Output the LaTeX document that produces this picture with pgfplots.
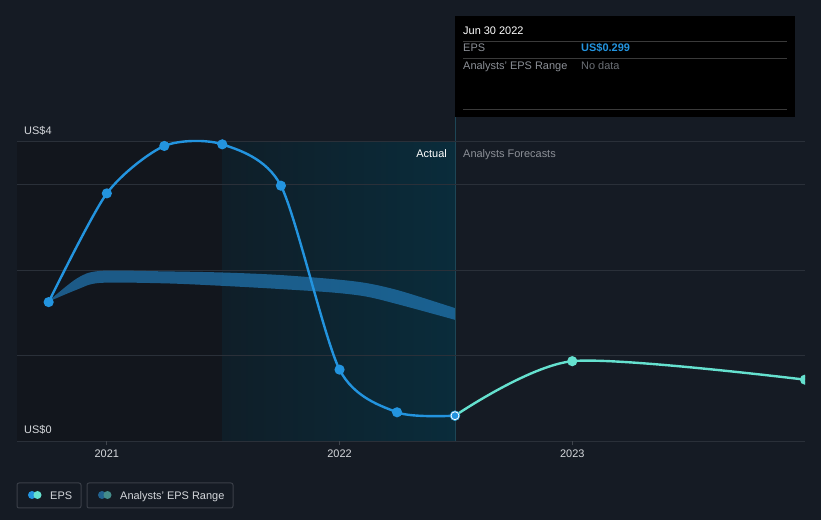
\documentclass[border=0pt]{standalone}
\usepackage{fontspec}
\setmainfont{Liberation Sans}
\usepackage{pgfplots}
\pgfplotsset{compat=1.18}
\usepgfplotslibrary{fillbetween}
\definecolor{bg}{HTML}{151B24}
\definecolor{leftdark}{HTML}{12161D}
\definecolor{tealL}{HTML}{0F1E28}
\definecolor{tealR}{HTML}{0A2C3B}
\definecolor{gridc}{HTML}{2A3039}
\definecolor{axisc}{HTML}{40454D}
\definecolor{epsc}{HTML}{2394DF}
\definecolor{fcc}{HTML}{65E1CF}
\definecolor{bandc}{HTML}{2178B5}
\definecolor{lblc}{HTML}{D5D8DC}
\definecolor{grayt}{HTML}{8C9097}
\definecolor{darkgray}{HTML}{6C7076}
\definecolor{tipline}{HTML}{3A3A3A}
\definecolor{legborder}{HTML}{3A3F48}
\definecolor{rng1}{HTML}{22628F}
\definecolor{rng2}{HTML}{448C8A}
\definecolor{vline}{HTML}{1D4656}
\pagecolor{bg}

\pgfplotstableread{
x y
2020.75 1.626
2021.0 2.896
2021.247 3.450
2021.496 3.469
2021.748 2.986
2022.0 0.837
2022.247 0.339
2022.496 0.299
}\epsdata

\pgfplotstableread{
x y
2022.496 0.299
2023.0 0.936
2024.0 0.720
}\fcdata

\pgfplotstableread{
x up lo
2020.745 1.626 1.626
2020.87 1.90 1.77
2020.97 1.99 1.85
2021.25 1.985 1.845
2021.496 1.972 1.816
2021.73 1.945 1.781
2021.97 1.895 1.738
2022.116 1.848 1.690
2022.26 1.758 1.594
2022.496 1.556 1.419
}\banddata

\begin{document}
\begin{tikzpicture}
\path (0,0) rectangle (821bp,520bp);
\begin{axis}[
  set layers, clip marker paths=true,
  at={(17bp,78.7bp)}, anchor=south west,
  scale only axis, width=788bp, height=303.9bp,
  xmin=2020.614, xmax=2024.0, ymin=0, ymax=3.55,
  axis line style={draw=none},
  xtick={2021,2022,2023}, xticklabels={2021,2022,2023},
  xtick pos=lower, tick align=outside, major tick length=4bp,
  xtick style={color=axisc, line width=0.8bp},
  ytick={1,2,3,3.5}, yticklabels={}, ytick style={draw=none},
  extra y ticks={0}, extra y tick labels={},
  extra y tick style={grid style={color=axisc, line width=1bp}},
  ymajorgrids, major grid style={color=gridc, line width=0.8bp},
  xticklabel style={text=lblc, font=\fontsize{11}{13}\selectfont, inner sep=0pt, anchor=north, yshift=-4bp},
  /pgf/number format/assume math mode=true,
]
\begin{pgfonlayer}{axis background}
\fill[leftdark] (axis cs:2020.614,0) rectangle (axis cs:2021.496,3.5);
\shade[left color=tealL, right color=tealR] (axis cs:2021.496,0) rectangle (axis cs:2022.496,3.5);
\draw[vline, line width=0.8bp] (axis cs:2022.496,0) -- (axis cs:2022.496,3.55);
\end{pgfonlayer}
\addplot[name path=up, draw=none, smooth] table[x=x, y=up] {\banddata};
\addplot[name path=lo, draw=none, smooth] table[x=x, y=lo] {\banddata};
\addplot[bandc, fill opacity=0.7, draw=none] fill between[of=up and lo];
\addplot[fcc, line width=2.4bp, smooth, tension=0.45, mark=*, mark size=3.8bp, mark options={fill=fcc, draw=none}] table[x=x, y=y] {\fcdata};
\addplot[epsc, line width=2.4bp, smooth, tension=0.45, mark=*, mark size=3.8bp, mark options={fill=epsc, draw=none}] table[x=x, y=y] {\epsdata};
\addplot[only marks, mark=*, mark size=4bp, mark options={fill=epsc, draw=white, line width=0.8bp}] coordinates {(2022.496,0.299)};
\end{axis}
\draw[vline, line width=0.8bp] (455bp,382bp) -- (455bp,403bp);
% axis value labels
\begin{scope}[every node/.style={inner sep=0pt, font=\fontsize{11}{13}\selectfont}]
\node[anchor=base west, text=lblc] at (24bp,385bp) {US\$4};
\node[anchor=base west, text=lblc] at (24bp,86bp) {US\$0};
\node[anchor=base east, text=white] at (447bp,362bp) {Actual};
\node[anchor=base west, text=grayt] at (463bp,362bp) {Analysts Forecasts};
% tooltip
\fill[black] (455bp,403bp) rectangle (795bp,504bp);
\node[anchor=base west, text=white] at (463bp,485bp) {Jun 30 2022};
\draw[tipline, line width=0.8bp] (463bp,479bp) -- (787bp,479bp);
\node[anchor=base west, text=grayt] at (463bp,468bp) {EPS};
\node[anchor=base west, text=epsc] at (581bp,468bp) {\bfseries US\$0.299};
\draw[tipline, line width=0.8bp] (463bp,462bp) -- (787bp,462bp);
\node[anchor=base west, text=grayt] at (463bp,450bp) {Analysts' EPS Range};
\node[anchor=base west, text=darkgray] at (581bp,450bp) {No data};
\draw[tipline, line width=0.8bp] (463bp,411bp) -- (787bp,411bp);
% legend
\draw[legborder, line width=1bp, rounded corners=2bp] (17bp,12bp) rectangle (81bp,37bp);
\fill[epsc] (32bp,25bp) circle (4bp);
\fill[fcc] (37.5bp,25bp) circle (4bp);
\node[anchor=base west, text=lblc] at (50bp,21bp) {EPS};
\draw[legborder, line width=1bp, rounded corners=2bp] (87bp,12bp) rectangle (233bp,37bp);
\fill[rng1] (102bp,25bp) circle (4bp);
\fill[rng2] (107.5bp,25bp) circle (4bp);
\node[anchor=base west, text=lblc] at (120bp,21bp) {Analysts' EPS Range};
\end{scope}
\end{tikzpicture}
\end{document}
